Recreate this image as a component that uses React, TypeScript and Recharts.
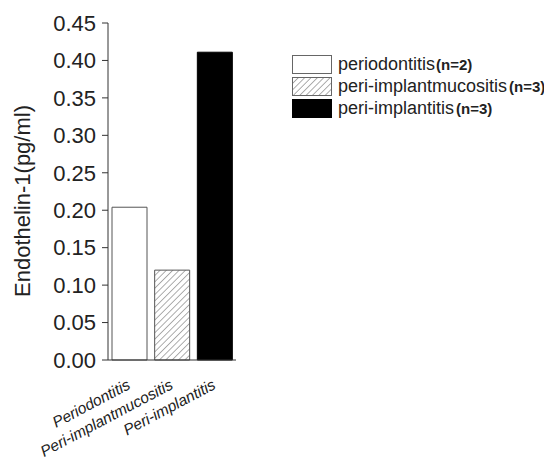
import React from 'react';
import { Bar, BarChart, Cell, XAxis, YAxis } from 'recharts';

const FONT = '"Liberation Sans", Arial, sans-serif';
const AXIS = '#333';
const TEXT = '#222';

const categories = ['Periodontitis', 'Peri-implantmucositis', 'Peri-implantitis'];
const values = [0.204, 0.12, 0.411];
const legendNames = ['periodontitis', 'peri-implantmucositis', 'peri-implantitis'];
const legendCounts = ['(n=2)', '(n=3)', '(n=3)'];
const yTicks = [0, 0.05, 0.1, 0.15, 0.2, 0.25, 0.3, 0.35, 0.4, 0.45];

const FILLS = ['#fff', 'url(#hatch)', '#000'];
const STROKES = ['#555', '#555', '#000'];

const rows = categories.map((name, i) => ({ name, value: values[i] }));

function XTick({ x, y, payload }: any) {
  return (
    <g transform={`translate(${x + 2},${y + 20})`}>
      <text
        x={0}
        y={0}
        textAnchor="end"
        transform="rotate(-28)"
        fontSize={15.5}
        fontStyle="italic"
        fontFamily={FONT}
        fill={TEXT}
      >
        {payload.value}
      </text>
    </g>
  );
}

// legend drawn outside the chart so it doesn't eat plot space
function ChartLegend() {
  return (
    <div
      style={{
        position: 'absolute',
        left: 284,
        top: 47,
        width: 'max-content',
        fontFamily: FONT,
        color: TEXT,
      }}
    >
      {legendNames.map((n, i) => (
        <div key={n} style={{ display: 'flex', alignItems: 'center', height: 19, marginBottom: 3 }}>
          <svg width={40} height={19} style={{ display: 'block' }}>
            <rect
              x={0.5}
              y={0.5}
              width={39}
              height={18}
              fill={FILLS[i]}
              stroke={i === 2 ? '#000' : '#666'}
            />
          </svg>
          <span style={{ marginLeft: 6, fontSize: 18, whiteSpace: 'nowrap' }}>
            {n}
            <span style={{ fontSize: 15, fontWeight: 'bold', marginLeft: i === 0 ? 1 : 2 }}>
              {legendCounts[i]}
            </span>
          </span>
        </div>
      ))}
    </div>
  );
}

export default function App() {
  return (
    <div style={{ position: 'relative', width: 544, height: 458 }}>
      <svg width={0} height={0} style={{ position: 'absolute' }}>
        <defs>
          <pattern
            id="hatch"
            patternUnits="userSpaceOnUse"
            width={4.5}
            height={4.5}
            patternTransform="rotate(45)"
          >
            <rect width={4.5} height={4.5} fill="#fff" />
            <line x1={0} y1={0} x2={0} y2={4.5} stroke="#777" strokeWidth={1.2} />
          </pattern>
        </defs>
      </svg>
      <BarChart
        width={544}
        height={458}
        data={rows}
        margin={{ top: 15, right: 316, left: 0, bottom: 0 }}
      >
        <XAxis
          dataKey="name"
          height={106}
          interval={0}
          tickLine={false}
          axisLine={{ stroke: AXIS }}
          tick={<XTick />}
        />
        <YAxis
          width={100}
          domain={[0, 0.45]}
          ticks={yTicks}
          interval={0}
          tickFormatter={(v: number) => v.toFixed(2)}
          tickSize={6}
          tickMargin={6}
          tickLine={{ stroke: AXIS }}
          axisLine={{ stroke: AXIS }}
          tick={{ fontSize: 22, fill: TEXT, fontFamily: FONT }}
          label={{
            content: () => (
              <text
                x={22}
                y={193}
                transform="rotate(-90 22 193)"
                textAnchor="middle"
                fontSize={22}
                fontFamily={FONT}
                fill={TEXT}
              >
                Endothelin-1(pg/ml)
              </text>
            ),
          }}
        />
        <Bar dataKey="value" barSize={35} isAnimationActive={false}>
          {rows.map((r, i) => (
            <Cell key={r.name} fill={FILLS[i]} stroke={STROKES[i]} strokeWidth={1} />
          ))}
        </Bar>
      </BarChart>
      <ChartLegend />
    </div>
  );
}
